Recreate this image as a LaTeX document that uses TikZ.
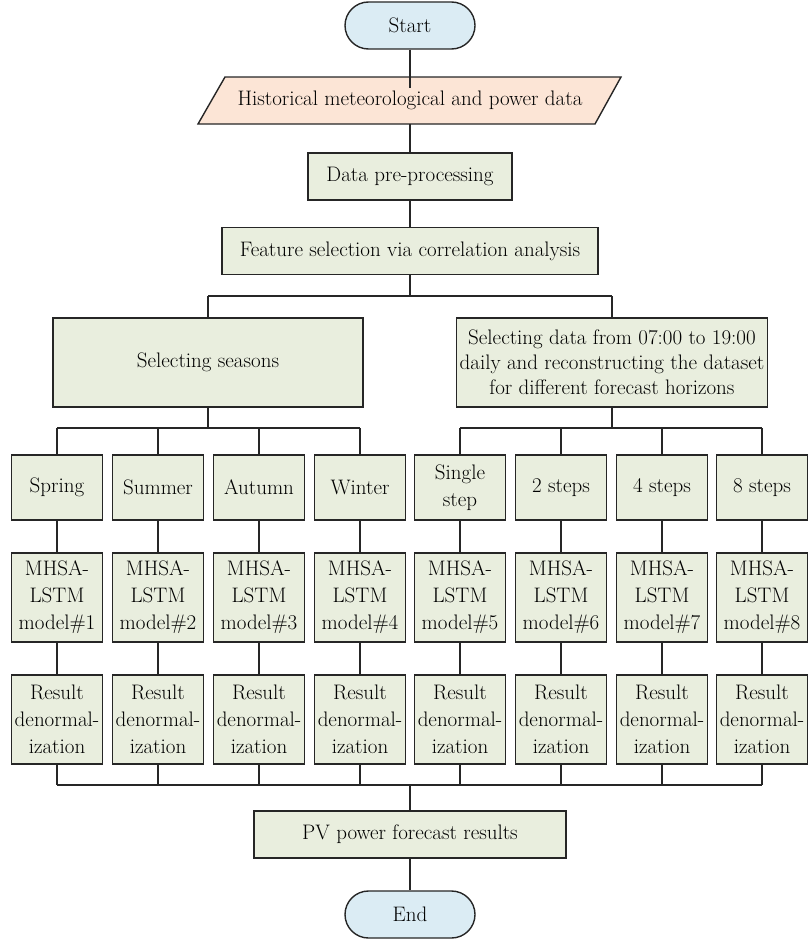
\documentclass[tikz,border=0pt]{standalone}
\usepackage{fontspec}
\usetikzlibrary{shapes.geometric}
\definecolor{termc}{RGB}{219,236,244}
\definecolor{inc}{RGB}{252,229,214}
\definecolor{boxc}{RGB}{233,238,222}
\tikzset{
  base/.style={draw=black!85, line width=1.4pt, font=\fontsize{21}{25}\selectfont, inner sep=0pt, align=center},
  term/.style={base, fill=termc, rounded corners=23.5pt, minimum width=130pt, minimum height=47pt},
  proc/.style={base, fill=boxc, minimum height=47pt},
  small/.style={base, fill=boxc, minimum width=91pt, minimum height=89pt, font=\fontsize{21}{27}\selectfont},
  conn/.style={draw=black!85, line width=1.4pt}
}
\begin{document}
\begin{tikzpicture}[x=1pt,y=-1pt]
\useasboundingbox (0,0) rectangle (807,942);
\node[term] (start) at (410,25.5) {Start};
\path[base, fill=inc] (225,77) -- (621,77) -- (595,124) -- (198,124) -- cycle;
\node[font=\fontsize{21}{25}\selectfont] (hist) at (410,100.5) {Historical meteorological and power data};
\node[proc, minimum width=204pt] (pre) at (410,176.5) {Data pre-processing};
\node[proc, minimum width=376pt] (feat) at (410,251) {Feature selection via correlation analysis};
\node[proc, minimum width=310pt, minimum height=89pt] (seas) at (208,362.5) {Selecting seasons};
\node[proc, minimum width=311pt, minimum height=89pt] (sel) at (612,362.5) {Selecting data from 07:00 to 19:00\\daily and reconstructing the dataset\\for different forecast horizons};
\foreach \i/\x/\t in {1/57/Spring,2/158/Summer,3/259/Autumn,4/360/Winter,5/460/{Single\\step},6/561/2 steps,7/662/4 steps,8/762/8 steps}{
  \node[small, minimum height=65pt] (c\i) at (\x,487.5) {\t};
  \node[small] (m\i) at (\x,597.5) {MHSA-\\LSTM\\model\#\i};
  \node[small] (r\i) at (\x,719.5) {Result\\denormal-\\ization};
}
\node[proc, minimum width=312pt] (pv) at (410,834.5) {PV power forecast results};
\node[term] (endn) at (410,914.5) {End};
\coordinate (b0) at (410,296);
\coordinate (bl) at (208,296);
\coordinate (br) at (612,296);
\coordinate (sl) at (208,428);
\coordinate (sr) at (612,428);
\coordinate (bb) at (410,785);
\draw[conn] (start) -- (hist.north -| start);
\draw[conn] (410,124) -- (pre);
\draw[conn] (pre) -- (feat);
\draw[conn] (feat) -- (b0);
\draw[conn] (bl) -- (br);
\draw[conn] (bl) -- (seas);
\draw[conn] (br) -- (sel);
\draw[conn] (seas) -- (sl);
\draw[conn] (sel) -- (sr);
\draw[conn] (sl -| c1) -- (sl -| c4);
\draw[conn] (sr -| c5) -- (sr -| c8);
\foreach \i in {1,...,4}{ \draw[conn] (sl -| c\i) -- (c\i); }
\foreach \i in {5,...,8}{ \draw[conn] (sr -| c\i) -- (c\i); }
\foreach \i in {1,...,8}{
  \draw[conn] (c\i) -- (m\i);
  \draw[conn] (m\i) -- (r\i);
  \draw[conn] (r\i) -- (bb -| r\i);
}
\draw[conn] (bb -| r1) -- (bb -| r8);
\draw[conn] (bb) -- (pv);
\draw[conn] (pv) -- (endn);
\end{tikzpicture}
\end{document}
